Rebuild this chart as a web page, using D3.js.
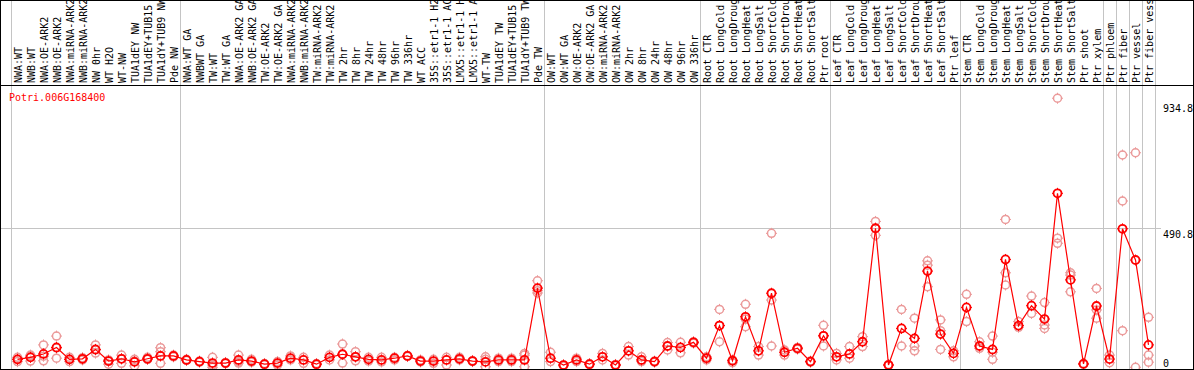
<!DOCTYPE html>
<html>
<head>
<meta charset="utf-8">
<script src="https://cdn.jsdelivr.net/npm/d3@7"></script>
<style>
body { margin: 0; background: #fff; }
svg { display: block; }
text { font-family: "DejaVu Sans Mono", "Liberation Mono", monospace; font-size: 10px; }
</style>
</head>
<body>
<div id="chart"></div>
<script>
// sample labels, left to right
var sampleLabels = [
    "NWA:WT", "NWB:WT", "NWA:OE-ARK2", "NWB:OE-ARK2", "NWA:miRNA-ARK2", "NWB:miRNA-ARK2", "NW 0hr", "WT H2O", "WT-NW",
    "TUA1dEY NW", "TUA1dEY+TUB15 NW", "TUA1dY+TUB9 NW", "Pde NW",
    "NWA:WT GA", "NWBWT GA", "TW:WT", "TW:WT GA", "NWA:OE-ARK2 GA", "NWB:OE-ARK2 GA", "TW:OE-ARK2", "TW:OE-ARK2 GA",
    "NWA:miRNA-ARK2", "NWB:miRNA-ARK2", "TW:miRNA-ARK2", "TW:miRNA-ARK2", "TW 2hr", "TW 8hr", "TW 24hr", "TW 48hr",
    "TW 96hr", "TW 336hr", "WT ACC", "35S::etr1-1 H2O", "35S::etr1-1 ACC", "LMX5::etr1-1 H2O", "LMX5::etr1-1 ACC",
    "WT-TW", "TUA1dEY TW", "TUA1dEY+TUB15 TW", "TUA1dY+TUB9 TW", "Pde TW",
    "OW:WT", "OW:WT GA", "OW:OE-ARK2", "OW:OE-ARK2 GA", "OW:miRNA-ARK2", "OW:miRNA-ARK2", "OW 2hr", "OW 8hr",
    "OW 24hr", "OW 48hr", "OW 96hr", "OW 336hr",
    "Root CTR", "Root LongCold", "Root LongDrought", "Root LongHeat", "Root LongSalt", "Root ShortCold",
    "Root ShortDrought", "Root ShortHeat", "Root ShortSalt", "Ptr root",
    "Leaf CTR", "Leaf LongCold", "Leaf LongDrought", "Leaf LongHeat", "Leaf LongSalt", "Leaf ShortCold",
    "Leaf ShortDrought", "Leaf ShortHeat", "Leaf ShortSalt", "Ptr leaf",
    "Stem CTR", "Stem LongCold", "Stem LongDrought", "Stem LongHeat", "Stem LongSalt", "Stem ShortCold",
    "Stem ShortDrought", "Stem ShortHeat", "Stem ShortSalt", "Ptr shoot", "Ptr xylem",
    "Ptr phloem", "Ptr fiber", "Ptr vessel", "Ptr fiber vessel"
];

// mean expression per sample
var meanValues = [
    28, 35, 47, 70, 28, 30, 63, 22, 30, 19, 30, 40, 40,
    26, 20, 15, 15, 26, 22, 11, 15, 32, 26, 11, 35, 46, 37, 28, 26, 32, 40, 22, 22, 26, 30, 22, 19, 26, 26, 26, 279,
    32, 8, 26, 11, 37, 8, 58, 26, 20, 75, 70, 88,
    32, 147, 23, 178, 58, 261, 53, 67, 20, 111,
    37, 47, 90, 490, 8, 137, 102, 339, 117, 49,
    211, 75, 63, 380, 147, 217, 170, 613, 308, 12, 216,
    29, 488, 378, 79
];

// replicate values per sample
var replicateValues = [
    [35, 28, 20], [43, 22, 40], [79, 39, 23], [110, 68, 32], [35, 28, 20], [34, 30, 26], [79, 61, 50], [26, 22, 11],
    [43, 30, 14], [28, 22, 5], [35, 28, 28], [69, 55, 14], [43, 40, 37],
    [28, 24], [22, 18], [35, 8, 0], [17, 13], [43, 20, 15], [28, 20, 18], [13, 9], [20, 8], [40, 26], [35, 14],
    [13, 9], [43, 26], [82, 46, 15], [55, 37, 23], [35, 22], [35, 19], [35, 26], [42, 38], [26, 19], [28, 14],
    [35, 8], [35, 26], [24, 20], [37, 28, 2], [32, 20], [32, 20], [49, 43, 2], [305, 270, 262],
    [53, 20], [8, 5], [32, 20], [13, 9], [49, 26], [10, 6], [73, 43], [37, 20], [22, 18], [87, 61], [88, 51], [90, 85],
    [37, 26], [204, 147, 90], [26, 16], [222, 170, 143], [73, 43], [472, 237, 75], [61, 43], [70, 64], [22, 18],
    [148, 111, 75],
    [49, 26], [73, 32], [108, 73], [514, 490, 465], [10, 6], [204, 75], [173, 75, 58], [375, 360, 284],
    [167, 129, 63], [58, 37],
    [257, 161], [90, 67], [110, 53, 28], [521, 333, 290], [161, 141], [251, 190], [228, 149, 137],
    [948, 455, 437], [333, 325, 266], [14, 10], [278, 202, 173],
    [43, 16], [748, 586, 129], [756, 0], [176, 43, 18]
];

// index of first sample in each group, last entry closes the final group
var groupStarts = [0, 13, 41, 53, 63, 73, 84, 85, 86, 87, 88];
var yTicks = [0, 490.8, 934.8];
var geneName = "Potri.006G168400";

var width = 1194, height = 370,
    headerHeight = 85,
    plotLeft = 11, plotRight = 1155;

var svg = d3.select("#chart").append("svg")
    .attr("width", width).attr("height", height);

var x = d3.scaleBand()
    .domain(d3.range(sampleLabels.length))
    .range([plotLeft, plotRight]);

var y = d3.scaleLinear()
    .domain([0, 934.8])
    .range([367.3, 102]);

// group separators
svg.selectAll(".sep").data(groupStarts).enter().append("line")
    .attr("class", "sep")
    .attr("x1", d => (d < sampleLabels.length ? x(d) : plotRight) + 0.5)
    .attr("x2", d => (d < sampleLabels.length ? x(d) : plotRight) + 0.5)
    .attr("y1", 0).attr("y2", height)
    .attr("stroke", "#c4c4c4").attr("stroke-width", 1);

// middle grid line
svg.append("line")
    .attr("x1", 0).attr("x2", 1161)
    .attr("y1", Math.round(y(490.8)) + 0.5).attr("y2", Math.round(y(490.8)) + 0.5)
    .attr("stroke", "#c4c4c4");

// header labels
svg.append("g").selectAll("text").data(sampleLabels).enter().append("text")
    .attr("transform", (d, i) => "translate(" + (x(i) + 11) + "," + (headerHeight - 2) + ") rotate(-90)")
    .attr("fill", "#000")
    .text(d => d);

svg.append("line")
    .attr("x1", 0).attr("x2", width)
    .attr("y1", headerHeight + 0.5).attr("y2", headerHeight + 0.5)
    .attr("stroke", "#000");

// y axis on the right
var yAxis = d3.axisRight(y).tickValues(yTicks).tickSize(0)
    .tickFormat(d => d === 0 ? "0" : d3.format(".1f")(d));
var axisG = svg.append("g").attr("transform", "translate(1163,0)").call(yAxis);
axisG.select(".domain").remove();
axisG.selectAll("text")
    .attr("x", 0)
    .attr("dy", d => d === 0 ? "-0.1em" : "0.9em")
    .attr("fill", "#000")
    .style("font-family", "\"DejaVu Sans Mono\", monospace")
    .style("font-size", "10px");

svg.append("text")
    .attr("x", 9).attr("y", 101)
    .attr("fill", "#ff0000")
    .text(geneName);

var marker = "M0,-5.5V-3.5M0,3.5V5.5M-5.5,0H-3.5M3.5,0H5.5";

// replicates
var reps = [];
replicateValues.forEach((vals, i) => vals.forEach(v => reps.push({i: i, v: v})));

var repG = svg.append("g").selectAll("g").data(reps).enter().append("g")
    .attr("transform", d => "translate(" + (x(d.i) + x.bandwidth() / 2) + "," + y(d.v) + ")");
repG.append("circle").attr("r", 4)
    .attr("fill", "none").attr("stroke", "#eb9a9a").attr("stroke-width", 1.5);
repG.append("path").attr("d", marker)
    .attr("stroke", "#eb9a9a").attr("stroke-width", 1);

// mean line
var line = d3.line()
    .x((d, i) => x(i) + x.bandwidth() / 2)
    .y(d => y(d));

svg.append("path").datum(meanValues)
    .attr("fill", "none").attr("stroke", "#ff0000").attr("stroke-width", 1.2)
    .attr("d", line);

var meanG = svg.append("g").selectAll("g").data(meanValues).enter().append("g")
    .attr("transform", (d, i) => "translate(" + (x(i) + x.bandwidth() / 2) + "," + y(d) + ")");
meanG.append("circle").attr("r", 4)
    .attr("fill", "none").attr("stroke", "#ff0000").attr("stroke-width", 1.8);
meanG.append("path").attr("d", marker)
    .attr("stroke", "#ff0000").attr("stroke-width", 1);

// outer frame
svg.append("rect")
    .attr("x", 0.5).attr("y", 0.5)
    .attr("width", width - 1).attr("height", height - 1)
    .attr("fill", "none").attr("stroke", "#000");
</script>
</body>
</html>
